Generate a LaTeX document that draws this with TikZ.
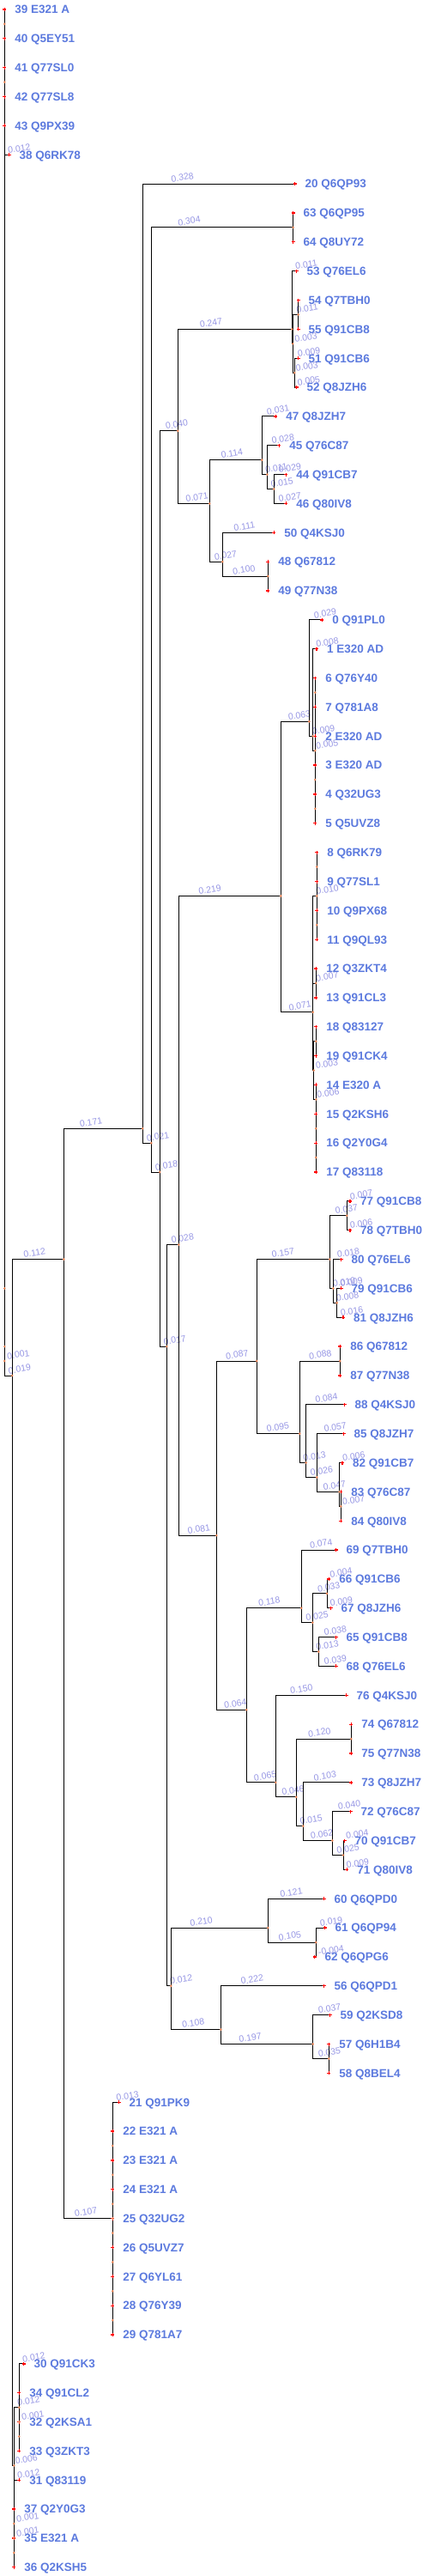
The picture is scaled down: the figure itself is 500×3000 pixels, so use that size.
\documentclass[tikz,border=0pt]{standalone}
\usepackage{fontspec}
\setmainfont{Liberation Sans}
\usetikzlibrary{calc}
\definecolor{leafblue}{RGB}{92,122,222}
\definecolor{lablav}{RGB}{150,150,228}
\definecolor{nodeor}{RGB}{232,128,80}
\tikzset{
  brline/.style={black, line width=0.9pt},
  blab/.style={anchor=south west, inner sep=0pt, rotate=9, text=lablav, font=\fontsize{10.5}{10.5}\selectfont},
  ltext/.style={anchor=base west, inner sep=0pt, text=leafblue, font=\bfseries\fontsize{13.5}{13.5}\selectfont},
  redmark/.style={red, line width=1.3pt},
}
\newcommand\br[3]{\draw[brline] (#1) |- (#2);
  \path (#1 |- #2) coordinate (f#2);
  \node[blab] (lab#2) at ($(f#2)!0.17!(#2)+(3.5pt,1.5pt)$) {#3};}
\newcommand\bz[2]{\draw[brline] (#1) |- (#2);}
\def\leaflist{39/5.3/0/E321 A, 40/5.3/1/Q5EY51, 41/5.3/2/Q77SL0, 42/5.3/3/Q77SL8, 43/5.3/4/Q9PX39, 38/10.7/5/Q6RK78,
20/343.7/6/Q6QP93, 63/341.7/7/Q6QP95, 64/341.7/8/Q8UY72, 53/345.7/9/Q76EL6, 54/347.7/10/Q7TBH0, 55/347.7/11/Q91CB8,
51/347.7/12/Q91CB6, 52/345.7/13/Q8JZH6, 47/321.3/14/Q8JZH7, 45/325.3/15/Q76C87, 44/333.3/16/Q91CB7, 46/333.3/17/Q80IV8,
50/319.3/18/Q4KSJ0, 48/312.3/19/Q67812, 49/312.3/20/Q77N38, 0/375.3/21/Q91PL0, 1/369/22/E320 AD, 6/367.3/23/Q76Y40,
7/367.3/24/Q781A8, 2/367.3/25/E320 AD, 3/367.3/26/E320 AD, 4/367.3/27/Q32UG3, 5/367.3/28/Q5UVZ8, 8/369.3/29/Q6RK79,
9/369.3/30/Q77SL1, 10/369.3/31/Q9PX68, 11/369.3/32/Q9QL93, 12/368.3/33/Q3ZKT4, 13/368.3/34/Q91CL3, 18/368.3/35/Q83127,
19/368.3/36/Q91CK4, 14/368.3/37/E320 A, 15/368.3/38/Q2KSH6, 16/368.3/39/Q2Y0G4, 17/368.3/40/Q83118, 77/408/41/Q91CB8,
78/408/42/Q7TBH0, 80/397.5/43/Q76EL6, 79/397.5/44/Q91CB6, 81/400/45/Q8JZH6, 86/396.3/46/Q67812, 87/396.3/47/Q77N38,
88/401.7/48/Q4KSJ0, 85/400.7/49/Q8JZH7, 82/399/50/Q91CB7, 83/397.3/51/Q76C87, 84/397.3/52/Q80IV8, 69/391.7/53/Q7TBH0,
66/383.3/54/Q91CB6, 67/385.7/55/Q8JZH6, 65/391.7/56/Q91CB8, 68/391.7/57/Q76EL6, 76/403.7/58/Q4KSJ0, 74/409.3/59/Q67812,
75/409.3/60/Q77N38, 73/409.3/61/Q8JZH7, 72/408.7/62/Q76C87, 70/401.7/63/Q91CB7, 71/404.3/64/Q80IV8, 60/377.7/65/Q6QPD0,
61/378.6/66/Q6QP94, 62/366.5/67/Q6QPG6, 56/377.7/68/Q6QPD1, 59/384.5/69/Q2KSD8, 57/383.3/70/Q6H1B4, 58/383.3/71/Q8BEL4,
21/138.7/72/Q91PK9, 22/131.3/73/E321 A, 23/131.3/74/E321 A, 24/131.3/75/E321 A, 25/131.3/76/Q32UG2, 26/131.3/77/Q5UVZ7,
27/131.3/78/Q6YL61, 28/131.3/79/Q76Y39, 29/131.3/80/Q781A7, 30/27.7/81/Q91CK3, 34/22.3/82/Q91CL2, 32/22.3/83/Q2KSA1,
33/22.3/84/Q3ZKT3, 31/22.3/85/Q83119, 37/16.3/86/Q2Y0G3, 35/16.3/87/E321 A, 36/16.3/88/Q2KSH5}
\def\intlist{r1/5.3/0.5, r2/5.3/2.5, R44/5.3/44, R46/5.3/46, R465/5.3/46.5, BG/14.3/47, BE/74.3/43, A/166.3/38.5,
B/176.3/39, N6364/341.7/7.5, C/186.3/40, D/207.3/14.5, F/340.3/11, I/341.3/11.5, H/347.7/10.5, J/343.3/12.5,
G/244.3/17, K/305.3/15.5, M/311.3/16, N/319.3/16.5, L/259.3/19, O/312.3/19.5, E/194.3/46, P/208.3/42.5,
W/327.3/30.5, Y/360.3/24.5, AA/364.7/25, AB/367.3/25.5, c235/367.3/23.5, c265/367.3/26.5, c275/367.3/27.5,
Z/364.7/34.5, AC/369.3/30.5, c295/369.3/29.5, c315/369.3/31.5, AD/368.3/33.5, Q1/365.8/36.5, c355/368.3/35.5,
Q2/368.3/37.5, c385/368.3/38.5, c395/368.3/39.5, X/252.3/52.5, AI/299.3/46.5, AK/384.3/43, AM/404.3/41.5,
AN/388.3/44, AO/392.7/44.5, AL/349.3/49, AP/396.3/46.5, AQ/356.7/50, AR/369.3/50.5, AS/395.7/51, AT/397.3/51.5,
AJ/287.3/58.5, AU/351.3/55, AW/364.3/55.5, AX/381/54.5, AY/371.3/56.5, AV/321.3/61, AZ/345.3/61.5, BA/409.3/59.5,
BB/353.3/62.5, BC/387.3/63, BD/400/63.5, Q/199.3/68, R/312.3/66, T/368.3/66.5, S/257.3/69.5, U/364.7/70,
V/383.3/70.5, BF/131.3/76, c735/131.3/73.5, c745/131.3/74.5, c755/131.3/75.5, c765/131.3/76.5, c775/131.3/77.5,
c785/131.3/78.5, c795/131.3/79.5, BH/16.3/84.5, BI/22.3/82.5, c835/22.3/83.5, c83/22.3/83, c865/16.3/86.5,
c875/16.3/87.5, c87/16.3/87}
\begin{document}
\begin{tikzpicture}[x=1pt, y=-33.85pt]
\useasboundingbox (0pt,0pt) rectangle (500pt,-3000pt);
\begin{scope}[yshift=-11pt]
\foreach \n/\x/\r/\id in \leaflist {\coordinate (L\n) at (\x,\r);}
\foreach \n/\x/\r in \intlist {\coordinate (\n) at (\x,\r);}
% root
\bz{r1}{L39} \bz{r1}{L40} \bz{r2}{L41} \bz{r2}{L42}
\bz{R44}{r1} \bz{R44}{r2} \bz{R44}{L43} \br{R44}{L38}{0.012}
\bz{R46}{R44} \br{R46}{R465}{0.001} \br{R465}{BG}{0.019}
\br{BG}{BE}{0.112} \br{BG}{BH}{0.006}
\br{BE}{A}{0.171} \br{BE}{BF}{0.107}
\br{A}{L20}{0.328} \br{A}{B}{0.021}
\br{B}{N6364}{0.304} \br{B}{C}{0.018}
\bz{N6364}{L63} \bz{N6364}{L64}
\br{C}{D}{0.040} \br{C}{E}{0.017}
\br{D}{F}{0.247} \br{D}{G}{0.071}
\br{F}{L53}{0.011} \br{F}{I}{0.003}
\br{I}{H}{0.011} \br{I}{J}{0.003}
\bz{H}{L54} \bz{H}{L55}
\br{J}{L51}{0.009} \br{J}{L52}{0.005}
\br{G}{K}{0.114} \br{G}{L}{0.027}
\br{K}{L47}{0.031} \br{K}{M}{0.011}
\br{M}{L45}{0.028} \br{M}{N}{0.015}
\br{N}{L44}{0.029} \br{N}{L46}{0.027}
\br{L}{L50}{0.111} \br{L}{O}{0.100}
\bz{O}{L48} \bz{O}{L49}
\br{E}{P}{0.028} \br{E}{Q}{0.012}
\br{P}{W}{0.219} \br{P}{X}{0.081}
\br{W}{Y}{0.063} \br{W}{Z}{0.071}
\br{Y}{L0}{0.029} \br{Y}{AA}{0.009}
\br{AA}{L1}{0.008} \br{AA}{AB}{0.005}
\bz{AB}{c235} \bz{AB}{L2} \bz{AB}{c265}
\bz{c235}{L6} \bz{c235}{L7} \bz{c265}{L3} \bz{c265}{c275} \bz{c275}{L4} \bz{c275}{L5}
\br{Z}{AC}{0.010} \br{Z}{AD}{0.007} \br{Z}{Q1}{0.003}
\bz{AC}{c295} \bz{AC}{c315} \bz{c295}{L8} \bz{c295}{L9} \bz{c315}{L10} \bz{c315}{L11}
\bz{AD}{L12} \bz{AD}{L13}
\bz{Q1}{c355} \br{Q1}{Q2}{0.006}
\bz{c355}{L18} \bz{c355}{L19}
\bz{Q2}{L14} \bz{Q2}{c385} \bz{c385}{L15} \bz{c385}{c395} \bz{c395}{L16} \bz{c395}{L17}
\br{X}{AI}{0.087} \br{X}{AJ}{0.064}
\br{AI}{AK}{0.157} \br{AI}{AL}{0.095}
\br{AK}{AM}{0.037} \br{AK}{AN}{0.010}
\br{AM}{L77}{0.007} \br{AM}{L78}{0.006}
\br{AN}{L80}{0.018} \br{AN}{AO}{0.008}
\br{AO}{L79}{0.009} \br{AO}{L81}{0.016}
\br{AL}{AP}{0.088} \br{AL}{AQ}{0.013}
\bz{AP}{L86} \bz{AP}{L87}
\br{AQ}{L88}{0.084} \br{AQ}{AR}{0.026}
\br{AR}{L85}{0.057} \br{AR}{AS}{0.047}
\br{AS}{L82}{0.006} \br{AS}{AT}{0.007}
\bz{AT}{L83} \bz{AT}{L84}
\br{AJ}{AU}{0.118} \br{AJ}{AV}{0.065}
\br{AU}{L69}{0.074} \br{AU}{AW}{0.025}
\br{AW}{AX}{0.033} \br{AW}{AY}{0.013}
\br{AX}{L66}{0.004} \br{AX}{L67}{0.009}
\br{AY}{L65}{0.038} \br{AY}{L68}{0.039}
\br{AV}{L76}{0.150} \br{AV}{AZ}{0.046}
\br{AZ}{BA}{0.120} \br{AZ}{BB}{0.015}
\bz{BA}{L74} \bz{BA}{L75}
\br{BB}{L73}{0.103} \br{BB}{BC}{0.062}
\br{BC}{L72}{0.040} \br{BC}{BD}{0.025}
\br{BD}{L70}{0.004} \br{BD}{L71}{0.009}
\br{Q}{R}{0.210} \br{Q}{S}{0.108}
\br{R}{L60}{0.121} \br{R}{T}{0.105}
\br{T}{L61}{0.019} \br{T}{L62}{-0.004}
\br{S}{L56}{0.222} \br{S}{U}{0.197}
\br{U}{L59}{0.037} \br{U}{V}{0.035}
\bz{V}{L57} \bz{V}{L58}
\bz{BF}{c745} \bz{BF}{c765} \bz{c745}{c735} \bz{c745}{c755}
\br{c735}{L21}{0.013} \bz{c735}{L22} \bz{c735}{L23}
\bz{c755}{L24} \bz{c755}{L25}
\bz{c765}{c775} \bz{c775}{L26} \bz{c775}{c785} \bz{c785}{L27} \bz{c785}{c795} \bz{c795}{L28} \bz{c795}{L29}
\br{BH}{BI}{0.012} \br{BH}{L31}{0.012} \br{BH}{c865}{0.001}
\br{BI}{L30}{0.012} \bz{BI}{L34} \bz{BI}{c835}
\br{c835}{c83}{0.001} \bz{c835}{L33} \bz{c83}{L32}
\bz{c865}{L37} \bz{c865}{c875} \br{c875}{c87}{0.001} \bz{c875}{L36} \bz{c87}{L35}
% markers
\foreach \n/\x/\r/\id in \leaflist {
  \draw[redmark] (L\n) +(-2pt,0pt) -- +(2pt,0pt) +(0pt,-2pt) -- +(0pt,2pt);
}
\foreach \n/\x/\r in \intlist {\fill[nodeor] (\n) circle (1.4pt);}
% leaf texts
\foreach \n/\x/\r/\id in \leaflist {
  \node[ltext] (t\n) at ($(L\n)+(11.8pt,-4.8pt)$) {\n\ \id};
}
\end{scope}
\end{tikzpicture}
\end{document}
